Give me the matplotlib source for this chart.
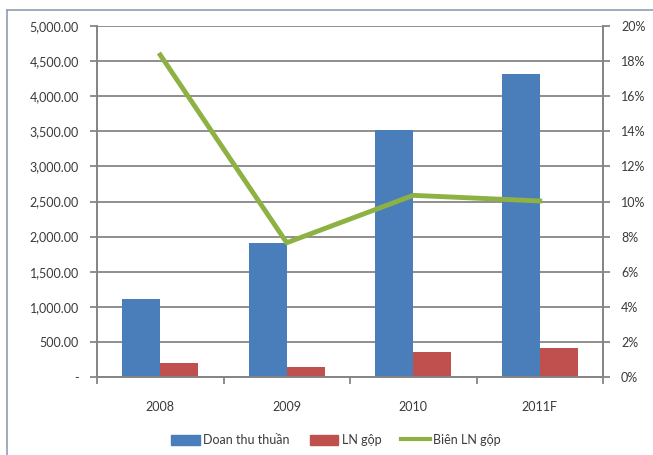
import matplotlib
matplotlib.use("Agg")
import matplotlib.pyplot as plt
from matplotlib.lines import Line2D
from matplotlib.ticker import FuncFormatter, MultipleLocator
import numpy as np

plt.rcParams['font.family'] = ['Lato', 'DejaVu Sans']

# data
years = ['2008', '2009', '2010', '2011F']
doanh_thu = [1105, 1915, 3520, 4315]      # Doanh thu thuần
ln_gop = [195, 148, 356, 417]             # LN gộp
bien_ln = [18.35, 7.65, 10.35, 10.03]     # Biên LN gộp (%)

blue = '#4a7ebb'
red = '#c0504d'
green = '#8db243'
grid_c = '#868686'
text_c = '#3a3a3a'

W, H = 653, 455
fig = plt.figure(figsize=(W / 100, H / 100), dpi=100)
fig.patch.set_facecolor('white')

# plot area in pixels: left 97, right 603, top 26, bottom 377
ax = fig.add_axes([97 / W, 1 - 377 / H, (603 - 97) / W, (377 - 26) / H])
ax2 = ax.twinx()

x = np.arange(len(years))
bw = 0.3
ax.bar(x - bw / 2, doanh_thu, bw, color=blue, label='Doan thu thuần', zorder=3)
ax.bar(x + bw / 2, ln_gop, bw, color=red, label='LN gộp', zorder=3)
ax2.plot(x, bien_ln, color=green, lw=3.5, label='Biên LN gộp', zorder=4)

ax.set_xlim(-0.5, len(years) - 0.5)
ax.set_ylim(0, 5000)
ax2.set_ylim(0, 20)
ax.yaxis.set_major_locator(MultipleLocator(500))
ax2.yaxis.set_major_locator(MultipleLocator(2))

def fmt_left(v, pos):
    if v == 0:
        return '-'
    return f'{v:,.2f}'

ax.yaxis.set_major_formatter(FuncFormatter(fmt_left))
ax2.yaxis.set_major_formatter(FuncFormatter(lambda v, p: f'{v:.0f}%'))

ax.set_xticks(x)
ax.set_xticklabels(years)
ax.set_xticks(np.arange(len(years) + 1) - 0.5, minor=True)
ax.tick_params(axis='x', which='major', length=0, pad=17, labelsize=9, colors=text_c)
ax.tick_params(axis='x', which='minor', length=5, width=1.3, direction='out', color=grid_c)
ax.tick_params(axis='y', length=5, width=1.3, direction='out', color=grid_c, labelsize=9, labelcolor=text_c, pad=8)
ax2.tick_params(axis='y', length=5, width=1.3, direction='out', color=grid_c, labelsize=9, labelcolor=text_c, pad=8)

ax.grid(axis='y', color=grid_c, lw=1.3, zorder=0)
ax.set_axisbelow(True)
for a in (ax, ax2):
    a.spines['top'].set_visible(False)
    for s in ('left', 'right', 'bottom'):
        a.spines[s].set_color(grid_c)
        a.spines[s].set_linewidth(1.3)
ax2.set_zorder(ax.get_zorder() + 1)
ax2.patch.set_visible(False)

handles = [plt.Rectangle((0, 0), 1, 1, color=blue),
           plt.Rectangle((0, 0), 1, 1, color=red),
           Line2D([0], [0], color=green, lw=3)]
labels = ['Doan thu thuần', 'LN gộp', 'Biên LN gộp']
fig.legend(handles, labels, loc='center', bbox_to_anchor=(336 / W, 1 - 440 / H),
           ncol=3, frameon=False, fontsize=9, handlelength=2.3, handleheight=0.9,
           columnspacing=1.6, handletextpad=0.25, labelcolor=text_c)

# outer chart border (left and top only visible in the reference)
fig.add_artist(Line2D([6.5 / W, 6.5 / W], [0, 1 - 10 / H], color='#8ea0b3', lw=1.2))
fig.add_artist(Line2D([6.5 / W, 1], [1 - 10 / H, 1 - 10 / H], color='#8ea0b3', lw=1.2))

fig.savefig('out.png', dpi=100)
